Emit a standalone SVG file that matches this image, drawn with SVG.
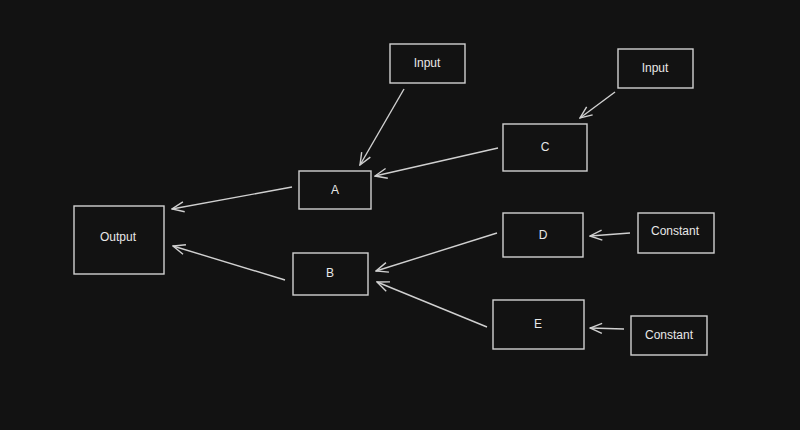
<svg xmlns="http://www.w3.org/2000/svg" width="800" height="430" viewBox="0 0 800 430">
<defs>
<marker id="ah" markerWidth="14" markerHeight="12" refX="13" refY="6" orient="auto" markerUnits="userSpaceOnUse">
<path d="M1,1 L13,6 L1,11" fill="none" stroke="#d0d0d0" stroke-width="1.4"/>
</marker>
</defs>
<style>
.n rect{fill:none;stroke:#d0d0d0;stroke-width:1.4}
.n text{fill:#e8e8e8;font-family:"Liberation Sans",sans-serif;font-size:12px;text-anchor:middle;dominant-baseline:middle}
#edges line{stroke:#d0d0d0;stroke-width:1.4;marker-end:url(#ah)}
</style>
<rect width="800" height="430" fill="#121212"/>
<g id="edges">
<line x1="404" y1="89" x2="360" y2="165"/>
<line x1="615" y1="92" x2="580" y2="118"/>
<line x1="498" y1="148" x2="375" y2="176"/>
<line x1="292" y1="187" x2="172" y2="209"/>
<line x1="285" y1="280" x2="173" y2="246"/>
<line x1="497" y1="233" x2="376" y2="271"/>
<line x1="487" y1="327" x2="377" y2="282"/>
<line x1="630" y1="233" x2="590" y2="236"/>
<line x1="624" y1="329" x2="590" y2="328"/>
</g>
<g id="input1" class="n"><rect x="390" y="44" width="75" height="39"/><text x="427" y="64">Input</text></g>
<g id="input2" class="n"><rect x="618" y="49" width="75" height="39"/><text x="655" y="69">Input</text></g>
<g id="C" class="n"><rect x="503" y="124" width="84" height="47"/><text x="545" y="148">C</text></g>
<g id="A" class="n"><rect x="299" y="171" width="72" height="38"/><text x="335" y="191">A</text></g>
<g id="output" class="n"><rect x="74" y="206" width="90" height="68"/><text x="118" y="238">Output</text></g>
<g id="B" class="n"><rect x="293" y="253" width="75" height="42"/><text x="330" y="274">B</text></g>
<g id="D" class="n"><rect x="503" y="213" width="80" height="44"/><text x="543" y="236">D</text></g>
<g id="constant1" class="n"><rect x="638" y="213" width="76" height="40"/><text x="675" y="232">Constant</text></g>
<g id="E" class="n"><rect x="493" y="300" width="91" height="49"/><text x="538" y="325">E</text></g>
<g id="constant2" class="n"><rect x="631" y="316" width="76" height="39"/><text x="669" y="336">Constant</text></g>
</svg>
